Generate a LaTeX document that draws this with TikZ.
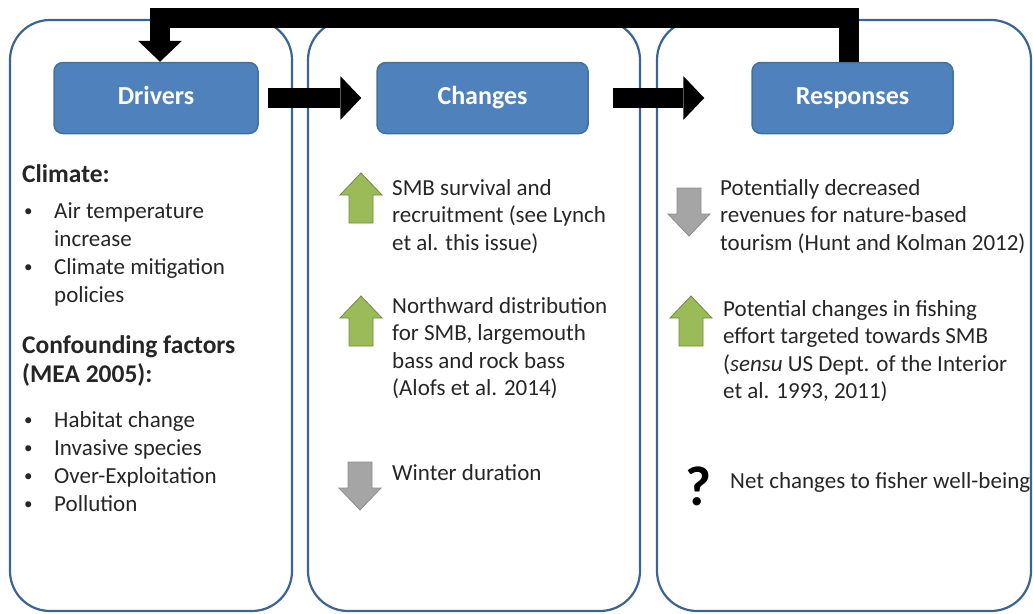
\documentclass[tikz,border=0pt]{standalone}
\usepackage{fontspec}
\setmainfont{Carlito}
\usetikzlibrary{arrows.meta}

\definecolor{hdrblue}{HTML}{4F81BD}
\definecolor{hdrline}{HTML}{41719C}
\definecolor{panelblue}{HTML}{3B6496}
\definecolor{upgreen}{HTML}{9BBB59}
\definecolor{upgreenline}{HTML}{71893F}
\definecolor{downgrey}{HTML}{A5A5A5}
\definecolor{downgreyline}{HTML}{8C8C8C}
\definecolor{txtcol}{HTML}{262626}

\tikzset{
  panel/.style={draw=panelblue, line width=2.2pt, rounded corners=40pt},
  header/.style={draw=hdrline, line width=1.5pt, fill=hdrblue, rounded corners=9pt,
    text=white, font=\bfseries\fontsize{26}{30}\selectfont, minimum height=71pt,
    text height=18pt, text depth=6pt},
  txt/.style={font=\fontsize{23}{27.5}\selectfont, text=txtcol, inner sep=0pt,
    align=left, anchor=base west},
  listtxt/.style={txt, font=\fontsize{23}{28}\selectfont},
  heading/.style={txt, font=\bfseries\fontsize{25.5}{29}\selectfont},
  bigarrow/.style={line width=20pt, black,
    -{Triangle[width=44pt, length=21pt, line width=0pt]}},
  greenup/.pic={
    \filldraw[fill=upgreen, draw=upgreenline, line width=0.8pt]
      (-12,25) -- (-12,-3) -- (-21,-3) -- (0,-25) -- (21,-3) -- (12,-3) -- (12,25) -- cycle;},
  greydown/.pic={
    \filldraw[fill=downgrey, draw=downgreyline, line width=0.8pt]
      (-12,-24) -- (-12,2) -- (-21,2) -- (0,24) -- (21,2) -- (12,2) -- (12,-24) -- cycle;}
}

\newcommand{\itm}{\makebox[32pt][l]{\hspace{2pt}\raisebox{2pt}{\fontsize{17}{17}\selectfont\textbullet}}}
\newcommand{\ind}{\hspace*{32pt}}

\begin{document}
\begin{tikzpicture}[x=1pt, y=-1pt]
	\useasboundingbox (0,0) rectangle (1033,613);

	% panels
	\node[panel, minimum width=282pt, minimum height=591pt] (leftpanel) at (151,315.5) {};
	\node[panel, minimum width=332pt, minimum height=591pt] (midpanel) at (474,315.5) {};
	\node[panel, minimum width=374pt, minimum height=591pt] (rightpanel) at (844,315.5) {};

	% headers
	\node[header, minimum width=204pt] (drivers) at (156,98) {Drivers};
	\node[header, minimum width=211pt] (changes) at (482.5,98) {Changes};
	\node[header, minimum width=201pt] (responses) at (852.5,98) {Responses};

	% block arrows
	\draw[bigarrow, shorten <=9pt, shorten >=15pt] (drivers.east) -- (changes.west);
	\draw[bigarrow, shorten <=24pt, shorten >=47pt] (changes.east) -- (responses.west);
	\draw[bigarrow] ([xshift=-3.5pt]responses.north) -- ++(0,-44) -| ([xshift=4pt]drivers.north);

	% drivers (base = last line)
	\node[heading] (climate) at (22,182) {Climate:};
	\node[listtxt] (climlist) at (22,302) {\itm Air temperature\\ \ind increase\\ \itm Climate mitigation\\ \ind policies};
	\node[heading] (confound) at (22,382) {Confounding factors\\ (MEA 2005):};
	\node[listtxt] (conflist) at (22,511) {\itm Habitat change\\ \itm Invasive species\\ \itm Over-Exploitation\\ \itm Pollution};

	% changes
	\pic at (361,198) {greenup};
	\node[txt] (survival) at (392,250) {SMB survival and\\ recruitment (see Lynch\\ et al. this issue)};
	\pic at (361,321) {greenup};
	\node[txt] (northward) at (392,395.5) {Northward distribution\\ for SMB, largemouth\\ bass and rock bass\\ (Alofs et al. 2014)};
	\pic at (360,486) {greydown};
	\node[txt] (winter) at (392,480) {Winter duration};

	% responses
	\pic at (689,212) {greydown};
	\node[txt] (revenues) at (720,250) {Potentially decreased\\ revenues for nature-based\\ tourism (Hunt and Kolman 2012)};
	\pic at (691,321) {greenup};
	\node[txt] (effort) at (723,398.5) {Potential changes in fishing\\ effort targeted towards SMB\\ (\textit{sensu} US Dept. of the Interior\\ et al. 1993, 2011)};
	\node[txt, font=\bfseries\fontsize{56}{60}\selectfont, text=black] (query) at (685,505) {?};
	\node[txt] (netchange) at (730,488) {Net changes to fisher well-being};
\end{tikzpicture}
\end{document}
